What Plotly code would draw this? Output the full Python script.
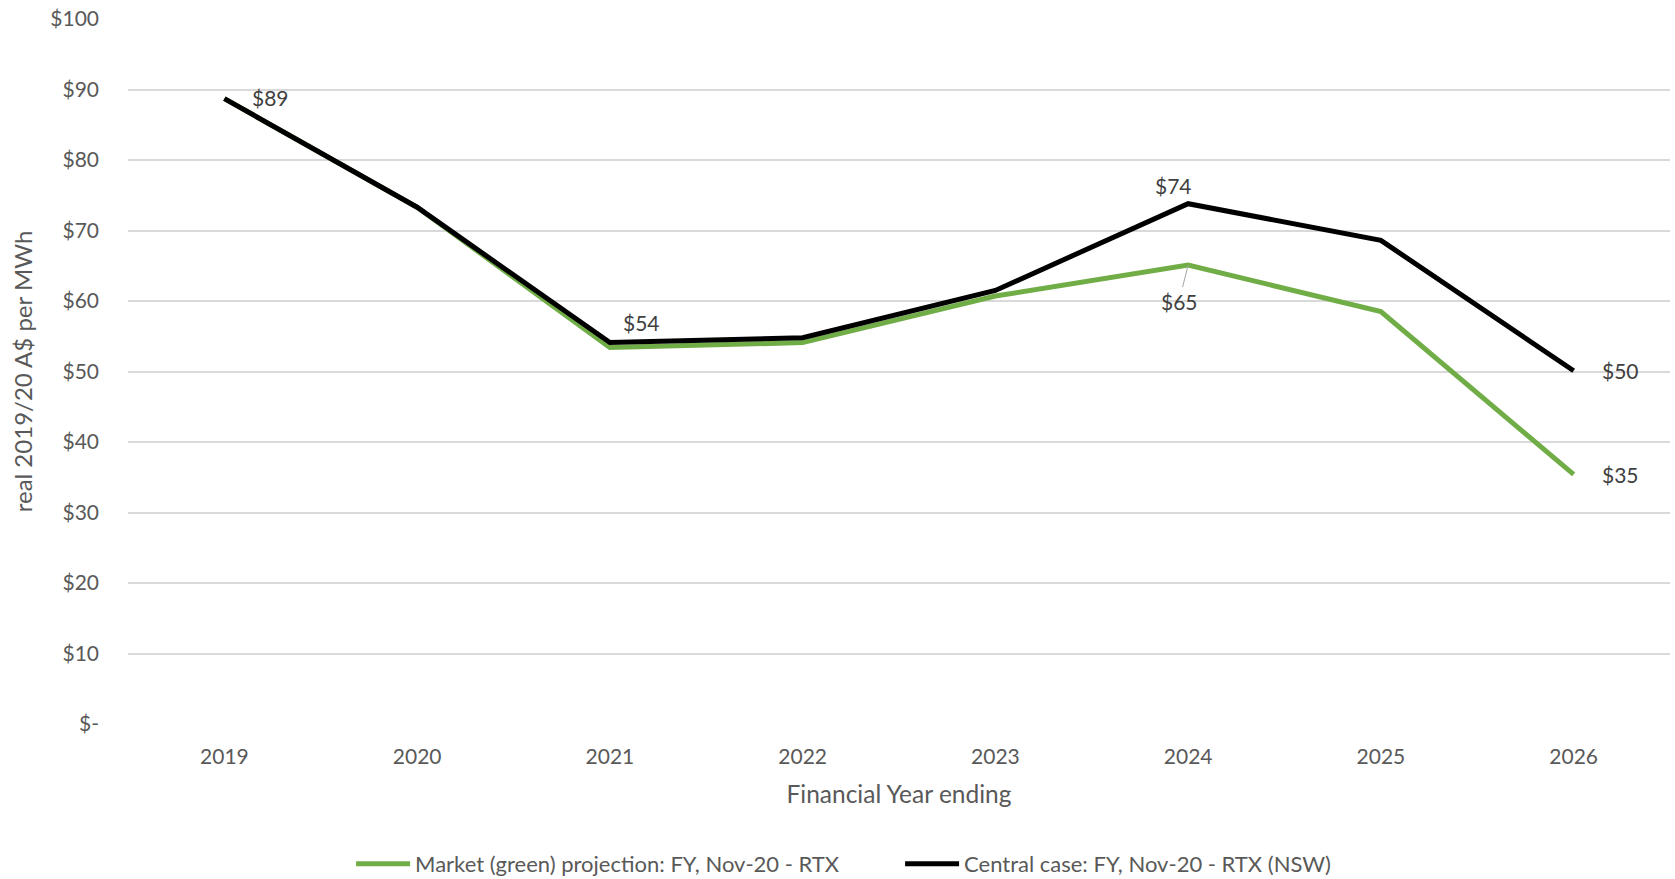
import plotly.graph_objects as go

# Financial years (ending) and price series, real 2019/20 A$ per MWh
years = ["2019", "2020", "2021", "2022", "2023", "2024", "2025", "2026"]
market_green = [88.7, 73.3, 53.4, 54.1, 60.7, 65.1, 58.5, 35.4]
central_case = [88.7, 73.3, 54.1, 54.8, 61.5, 73.8, 68.6, 50.1]

y_ticks = [0, 10, 20, 30, 40, 50, 60, 70, 80, 90, 100]
y_tick_text = ["$-", "$10", "$20", "$30", "$40", "$50", "$60", "$70", "$80", "$90", "$100"]

GREEN = "#70AD47"
BLACK = "#000000"
FONT = "Lato, 'Open Sans', sans-serif"
TICK_GREY = "#595959"
LABEL_GREY = "#404040"

fig = go.Figure()
fig.add_trace(go.Scatter(
    x=years, y=market_green, mode="lines",
    name="Market (green) projection: FY, Nov-20 - RTX",
    line=dict(color=GREEN, width=5),
))
fig.add_trace(go.Scatter(
    x=years, y=central_case, mode="lines",
    name="Central case: FY, Nov-20 - RTX (NSW)",
    line=dict(color=BLACK, width=5),
))


def money(v):
    return f"${round(v)}"


def label(series, i, **kw):
    # category axis: annotations are positioned by category index
    return dict(x=i, y=series[i], text=money(series[i]),
                font=dict(family=FONT, size=21, color=LABEL_GREY), **kw)


annotations = [
    label(central_case, 0, showarrow=False, xshift=46, yshift=1),
    label(central_case, 2, showarrow=False, xshift=32, yshift=20),
    label(central_case, 5, showarrow=False, xshift=-15, yshift=18),
    label(central_case, 7, showarrow=False, xshift=47),
    label(market_green, 5, showarrow=True, arrowhead=0, arrowwidth=1,
          arrowcolor="#A6A6A6", ax=-9, ay=36),
    label(market_green, 7, showarrow=False, xshift=47),
]

fig.update_layout(
    width=1675, height=879,
    margin=dict(l=128, r=5, t=17, b=155),
    paper_bgcolor="white", plot_bgcolor="white",
    font=dict(family=FONT, size=20, color=TICK_GREY),
    annotations=annotations,
    showlegend=True,
    legend=dict(
        orientation="h", xref="container", yref="container",
        x=0.2096, xanchor="left", y=0.017, yanchor="middle",
        font=dict(family=FONT, size=22, color=TICK_GREY),
        itemwidth=54,
        entrywidth=480, entrywidthmode="pixels",
    ),
    xaxis=dict(
        type="category", range=[-0.5, 7.5],
        showgrid=False, zeroline=False, showline=False,
        ticks="", ticklabelstandoff=18,
        tickfont=dict(family=FONT, size=21, color=TICK_GREY),
        title=dict(text="Financial Year ending", standoff=18,
                   font=dict(family=FONT, size=24.5, color=TICK_GREY)),
    ),
    yaxis=dict(
        range=[0, 100], tickvals=y_ticks, ticktext=y_tick_text,
        showgrid=True, gridcolor="#D9D9D9", gridwidth=1.5,
        zeroline=False, showline=False, ticks="", ticklabelstandoff=28,
        tickfont=dict(family=FONT, size=21, color=TICK_GREY),
        title=dict(text="real 2019/20 A$ per MWh", standoff=10,
                   font=dict(family=FONT, size=24, color=TICK_GREY)),
    ),
)

fig.write_html("out.html")
